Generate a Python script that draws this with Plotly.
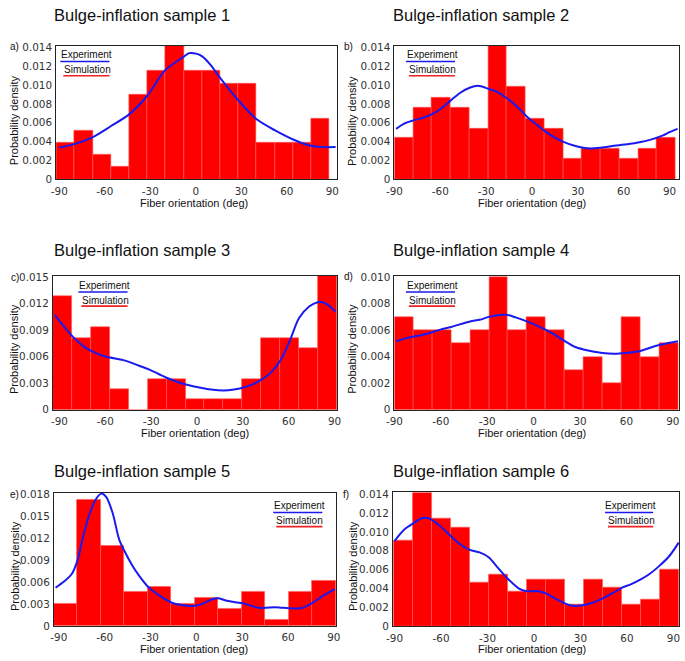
import plotly.graph_objects as go

# ---------------- data ----------------
X_TICKS = [-90, -60, -30, 0, 30, 60, 90]

PANEL_TITLES = ["Bulge-inflation sample 1", "Bulge-inflation sample 2", "Bulge-inflation sample 3",
                "Bulge-inflation sample 4", "Bulge-inflation sample 5", "Bulge-inflation sample 6"]
PANEL_LETTERS = ["a)", "b)", "c)", "d)", "e)", "f)"]

# histogram bins: left edge of first bin and bin width (deg)
A_BIN_START, A_BIN_WIDTH = -92.0, 12.0
A_DENSITY = [0.0039, 0.0052, 0.0026, 0.0013, 0.0090, 0.0115, 0.0144, 0.0115, 0.0115,
             0.0102, 0.0102, 0.0039, 0.0039, 0.0039, 0.0065]
A_CURVE_X = [-90.4, -80.1, -68.2, -56.1, -44.0, -32.1, -20.2, -8.1, -4.4, 0.3, 4.0, 10.0,
             15.9, 28.0, 39.9, 52.0, 63.8, 75.9, 83.5, 92.2]
A_CURVE_Y = [0.00336, 0.00374, 0.00446, 0.00564, 0.00690, 0.00885, 0.01160, 0.01300, 0.01340,
             0.01335, 0.01308, 0.01210, 0.01080, 0.00840, 0.00640, 0.00522, 0.00426, 0.00356,
             0.00343, 0.00343]
A_YTICKS = [0, 0.002, 0.004, 0.006, 0.008, 0.010, 0.012, 0.014]
A_YTEXT = ["0", "0.002", "0.004", "0.006", "0.008", "0.010", "0.012", "0.014"]

B_BIN_START, B_BIN_WIDTH = -90.0, 12.26
B_DENSITY = [0.0044, 0.0076, 0.0087, 0.0076, 0.0054, 0.0144, 0.0098, 0.0065, 0.0054,
             0.0022, 0.0033, 0.0033, 0.0022, 0.0033, 0.0044]
B_CURVE_X = [-88.9, -83.6, -77.6, -70.7, -65.4, -60.0, -52.9, -47.1, -40.8, -35.4, -28.5,
             -22.5, -16.1, -8.6, -3.9, 2.1, 8.4, 15.0, 20.6, 27.9, 36.4, 45.0, 53.6, 57.2,
             64.3, 69.4, 77.1, 85.7, 90.0, 95.3]
B_CURVE_Y = [0.00536, 0.00592, 0.00626, 0.00657, 0.00692, 0.00744, 0.00841, 0.00917, 0.00972,
             0.00993, 0.00962, 0.00927, 0.00858, 0.00754, 0.00675, 0.00592, 0.00512, 0.00443,
             0.00398, 0.00356, 0.00329, 0.00336, 0.00356, 0.00363, 0.00377, 0.00391, 0.00419,
             0.00467, 0.00502, 0.00536]
B_YTICKS = A_YTICKS
B_YTEXT = A_YTEXT

C_BIN_START, C_BIN_WIDTH = -94.3, 12.39
C_DENSITY = [0.0128, 0.0081, 0.0093, 0.0023, 0.0, 0.0035, 0.0035, 0.0012, 0.0012,
             0.0012, 0.0035, 0.0081, 0.0081, 0.0070, 0.0153]
C_CURVE_X = [-93.0, -89.4, -81.6, -74.4, -69.2, -61.5, -56.8, -46.5, -37.9, -31.9, -25.1,
             -19.5, -12.2, -7.3, 0.6, 9.2, 17.6, 24.2, 29.8, 37.1, 42.2, 47.8, 54.4, 60.6,
             66.8, 73.4, 79.0, 82.1, 86.3, 90.6]
C_CURVE_Y = [0.01073, 0.00991, 0.00832, 0.00720, 0.00665, 0.00609, 0.00590, 0.00553, 0.00498,
             0.00460, 0.00405, 0.00360, 0.00312, 0.00286, 0.00256, 0.00230, 0.00219, 0.00230,
             0.00249, 0.00293, 0.00342, 0.00412, 0.00553, 0.00776, 0.01036, 0.01166, 0.01214,
             0.01214, 0.01177, 0.01110]
C_YTICKS = [0, 0.003, 0.006, 0.009, 0.012, 0.015]
C_YTEXT = ["0", "0.003", "0.006", "0.009", "0.012", "0.015"]

D_BIN_START, D_BIN_WIDTH = -90.0, 12.22
D_DENSITY = [0.007, 0.006, 0.006, 0.005, 0.006, 0.010, 0.006, 0.007, 0.006,
             0.003, 0.004, 0.002, 0.007, 0.004, 0.005]
D_CURVE_X = [-88.9, -81.5, -70.9, -60.3, -53.3, -41.1, -34.9, -29.0, -22.2, -16.7, -11.6,
             -4.4, 3.2, 11.7, 20.2, 26.5, 32.2, 39.2, 44.5, 51.9, 56.8, 62.5, 68.9, 75.3,
             81.2, 88.0, 93.3]
D_CURVE_Y = [0.00517, 0.00542, 0.00567, 0.00604, 0.00624, 0.00666, 0.00678, 0.00700, 0.00715,
             0.00715, 0.00696, 0.00666, 0.00629, 0.00579, 0.00517, 0.00475, 0.00455, 0.00438,
             0.00428, 0.00423, 0.00426, 0.00431, 0.00443, 0.00468, 0.00488, 0.00505, 0.00517]
D_YTICKS = [0, 0.002, 0.004, 0.006, 0.008, 0.010]
D_YTEXT = ["0", "0.002", "0.004", "0.006", "0.008", "0.010"]

E_BIN_START, E_BIN_WIDTH = -93.2, 15.37
E_DENSITY = [0.0031, 0.0172, 0.0109, 0.0047, 0.0054, 0.0031, 0.0039, 0.0024, 0.0047,
             0.0008, 0.0047, 0.0062]
E_CURVE_X = [-92.1, -86.8, -81.4, -77.8, -74.0, -69.7, -65.4, -62.2, -59.0, -54.7, -50.5,
             -47.1, -41.9, -37.6, -31.6, -24.8, -16.3, -7.7, -0.9, 5.1, 10.4, 14.5, 20.1,
             26.5, 29.9, 37.2, 41.5, 47.9, 54.3, 60.5, 69.3, 75.9, 82.1, 90.6]
E_CURVE_Y = [0.00522, 0.00603, 0.00714, 0.00893, 0.01228, 0.01540, 0.01741, 0.01808, 0.01763,
             0.01540, 0.01183, 0.01027, 0.00826, 0.00692, 0.00536, 0.00424, 0.00321, 0.00281,
             0.00277, 0.00313, 0.00366, 0.00379, 0.00344, 0.00321, 0.00313, 0.00268, 0.00246,
             0.00254, 0.00254, 0.00241, 0.00246, 0.00313, 0.00402, 0.00504]
E_YTICKS = [0, 0.003, 0.006, 0.009, 0.012, 0.015, 0.018]
E_YTEXT = ["0", "0.003", "0.006", "0.009", "0.012", "0.015", "0.018"]

F_BIN_START, F_BIN_WIDTH = -90.4, 12.25
F_DENSITY = [0.0091, 0.0145, 0.0114, 0.0105, 0.0046, 0.0055, 0.0037, 0.0050, 0.0050,
             0.0023, 0.0050, 0.0041, 0.0023, 0.0028, 0.0060]
F_CURVE_X = [-90.0, -83.7, -78.2, -72.0, -68.9, -65.9, -60.4, -53.7, -47.7, -41.4, -35.1,
             -29.1, -24.5, -16.9, -9.7, -4.6, 3.0, 7.6, 13.5, 19.9, 24.1, 30.4, 36.7, 44.4,
             51.6, 56.6, 62.1, 68.9, 74.8, 81.1, 87.5, 93.4]
F_CURVE_Y = [0.00904, 0.01026, 0.01089, 0.01148, 0.01148, 0.01130, 0.01061, 0.00957, 0.00870,
             0.00810, 0.00783, 0.00730, 0.00643, 0.00504, 0.00400, 0.00372, 0.00372, 0.00348,
             0.00296, 0.00243, 0.00219, 0.00219, 0.00243, 0.00296, 0.00358, 0.00407, 0.00442,
             0.00497, 0.00557, 0.00643, 0.00748, 0.00887]
F_YTICKS = A_YTICKS
F_YTEXT = A_YTEXT

# ---------------- layout helpers ----------------
W, H = 685, 661


def fx(px):
    return px / W


def fy(py):
    return 1 - py / H


panels = [
    dict(start=A_BIN_START, width=A_BIN_WIDTH, dens=A_DENSITY, cx=A_CURVE_X, cy=A_CURVE_Y,
         yt=A_YTICKS, ytt=A_YTEXT, xr=[-92.1, 93.2], yr=[0, 0.0142],
         box=(49, 335, 41.3, 177.3), title=(45, 10), letter=(6.7, 42.7),
         ytitle=(5.5, 116.7), xtitle=(189.8, 201.7), leg=(80, 50.7, 53.3, 103.3)),
    dict(start=B_BIN_START, width=B_BIN_WIDTH, dens=B_DENSITY, cx=B_CURVE_X, cy=B_CURVE_Y,
         yt=B_YTICKS, ytt=B_YTEXT, xr=[-90.0, 96.4], yr=[0, 0.0142],
         box=(393.3, 683.3, 41.3, 177.3), title=(390, 10), letter=(346.7, 41.7),
         ytitle=(350.7, 118.3), xtitle=(533.5, 201.7), leg=(432, 50.7, 405, 455)),
    dict(start=C_BIN_START, width=C_BIN_WIDTH, dens=C_DENSITY, cx=C_CURVE_X, cy=C_CURVE_Y,
         yt=C_YTICKS, ytt=C_YTEXT, xr=[-94.3, 91.7], yr=[0, 0.0151],
         box=(45.7, 335, 275.7, 411.7), title=(45, 249.2), letter=(6.7, 276.7),
         ytitle=(6, 350), xtitle=(190.3, 435), leg=(98.5, 285, 71.7, 121.7)),
    dict(start=D_BIN_START, width=D_BIN_WIDTH, dens=D_DENSITY, cx=D_CURVE_X, cy=D_CURVE_Y,
         yt=D_YTICKS, ytt=D_YTEXT, xr=[-90.0, 93.8], yr=[0, 0.01007],
         box=(393.3, 682.7, 275.7, 411.7), title=(390, 249.2), letter=(347, 276),
         ytitle=(350.7, 350), xtitle=(533.5, 435), leg=(432, 285, 405, 455)),
    dict(start=E_BIN_START, width=E_BIN_WIDTH, dens=E_DENSITY, cx=E_CURVE_X, cy=E_CURVE_Y,
         yt=E_YTICKS, ytt=E_YTEXT, xr=[-93.2, 91.7], yr=[0, 0.0182],
         box=(46.7, 334.3, 496, 631.5), title=(45, 473.5), letter=(6.7, 497.3),
         ytitle=(7.3, 570.3), xtitle=(189.7, 655), leg=(296.3, 509.3, 270, 320)),
    dict(start=F_BIN_START, width=F_BIN_WIDTH, dens=F_DENSITY, cx=F_CURVE_X, cy=F_CURVE_Y,
         yt=F_YTICKS, ytt=F_YTEXT, xr=[-91.1, 93.8], yr=[0, 0.0142],
         box=(391.7, 683.3, 495.7, 631.7), title=(390, 473.5), letter=(344, 497.3),
         ytitle=(351, 570.7), xtitle=(533.5, 655), leg=(634, 509.3, 607.7, 656.7)),
]

fig = go.Figure()
annotations = []
shapes = []
layout = dict(
    width=W, height=H,
    margin=dict(l=0, r=0, t=0, b=0),
    paper_bgcolor="white", plot_bgcolor="white",
    showlegend=False,
    bargap=0,
    hovermode=False,
)

TICKFONT = dict(family="DejaVu Sans", size=10.4, color="#333333")
TEXTFONT = "Liberation Sans, Arial, sans-serif"

for i, p in enumerate(panels):
    k = "" if i == 0 else str(i + 1)
    xa, ya = "x" + k, "y" + k
    n = len(p["dens"])
    centers = [p["start"] + p["width"] * (j + 0.5) for j in range(n)]
    fig.add_trace(go.Bar(
        x=centers, y=p["dens"], width=[p["width"]] * n, name="Simulation",
        marker=dict(color="#ff0000", line=dict(color="#ff5c5c", width=0.6)),
        xaxis=xa, yaxis=ya))
    fig.add_trace(go.Scatter(
        x=p["cx"], y=p["cy"], mode="lines", name="Experiment",
        line=dict(color="#1a1aee", width=2, shape="spline", smoothing=0.8),
        xaxis=xa, yaxis=ya))

    x0, x1, y0, y1 = p["box"]
    layout["xaxis" + k] = dict(
        domain=[fx(x0), fx(x1)], anchor=ya, range=p["xr"],
        tickmode="array", tickvals=X_TICKS, ticktext=[str(t) for t in X_TICKS],
        showline=True, mirror=True, linecolor="#222222", linewidth=1,
        showgrid=False, zeroline=False, ticks="", tickfont=TICKFONT,
        ticklabelstandoff=2)
    layout["yaxis" + k] = dict(
        domain=[fy(y1), fy(y0)], anchor=xa, range=p["yr"],
        tickmode="array", tickvals=p["yt"], ticktext=p["ytt"],
        showline=True, mirror=True, linecolor="#222222", linewidth=1,
        showgrid=False, zeroline=False, ticks="", tickfont=TICKFONT,
        ticklabelstandoff=1)

    # panel title
    tx, ty = p["title"]
    annotations.append(dict(text=PANEL_TITLES[i], x=fx(tx), y=fy(ty), xref="paper", yref="paper",
                            xanchor="left", yanchor="middle", showarrow=False,
                            font=dict(family=TEXTFONT, size=16.5, color="#111111")))
    # panel letter
    lx, ly = p["letter"]
    annotations.append(dict(text=PANEL_LETTERS[i], x=fx(lx), y=fy(ly), xref="paper", yref="paper",
                            xanchor="center", yanchor="middle", showarrow=False,
                            font=dict(family=TEXTFONT, size=10, color="#111111")))
    # axis titles
    ax_, ay_ = p["ytitle"]
    annotations.append(dict(text="Probability density", x=fx(ax_), y=fy(ay_), xref="paper",
                            yref="paper", xanchor="center", yanchor="middle", textangle=-90,
                            showarrow=False, font=dict(family=TEXTFONT, size=11, color="#111111")))
    bx_, by_ = p["xtitle"]
    annotations.append(dict(text="Fiber orientation (deg)", x=fx(bx_), y=fy(by_), xref="paper",
                            yref="paper", xanchor="center", yanchor="middle",
                            showarrow=False, font=dict(family=TEXTFONT, size=11, color="#111111")))
    # legend: text with coloured underline
    cx_, cy_, lx0, lx1 = p["leg"]
    annotations.append(dict(text="Experiment", x=fx(cx_), y=fy(cy_), xref="paper", yref="paper",
                            xanchor="center", yanchor="middle", showarrow=False,
                            font=dict(family=TEXTFONT, size=10, color="#111111")))
    annotations.append(dict(text="Simulation", x=fx(cx_ + 0.5), y=fy(cy_ + 15.3), xref="paper",
                            yref="paper", xanchor="center", yanchor="middle", showarrow=False,
                            font=dict(family=TEXTFONT, size=10, color="#111111")))
    shapes.append(dict(type="line", xref="paper", yref="paper",
                       x0=fx(lx0), x1=fx(lx1), y0=fy(cy_ + 6.8), y1=fy(cy_ + 6.8),
                       line=dict(color="#1a1aee", width=1.6)))
    shapes.append(dict(type="line", xref="paper", yref="paper",
                       x0=fx(lx0 + 3), x1=fx(lx1), y0=fy(cy_ + 21.2), y1=fy(cy_ + 21.2),
                       line=dict(color="#ee2222", width=1.6)))

layout["annotations"] = annotations
layout["shapes"] = shapes
fig.update_layout(**layout)
fig.write_html(
    "out.html",
    config={"displayModeBar": False},
    post_script="document.body.style.margin='0';document.body.style.overflow='hidden';",
)
